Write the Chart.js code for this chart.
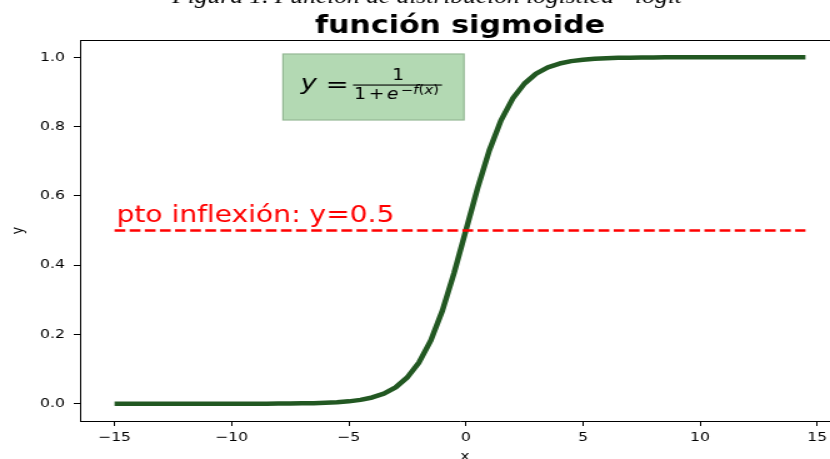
<!DOCTYPE html>
<html lang="es">
<head>
  <meta charset="UTF-8" />
  <title>función sigmoide</title>
  <script src="https://cdn.jsdelivr.net/npm/chart.js"></script>
  <style>
    html, body { margin: 0; padding: 0; background: #fff; overflow: hidden; }
    /* the reference picture is stretched sideways, so the whole chart is too */
    #wrap { width: 680px; height: 459px; transform: scale(1.25, 1); transform-origin: 0 0; }
  </style>
</head>
<body>
  <div id="wrap"><canvas id="sigmoidChart"></canvas></div>

  <script>
    const xVals = [-15, -14.5, -14, -13.5, -13, -12.5, -12, -11.5, -11, -10.5, -10, -9.5, -9, -8.5,
      -8, -7.5, -7, -6.5, -6, -5.5, -5, -4.5, -4, -3.5, -3, -2.5, -2, -1.5, -1, -0.5,
      0, 0.5, 1, 1.5, 2, 2.5, 3, 3.5, 4, 4.5, 5, 5.5, 6, 6.5, 7, 7.5, 8,
      8.5, 9, 9.5, 10, 10.5, 11, 11.5, 12, 12.5, 13, 13.5, 14, 14.5];
    const yVals = [0, 0, 0, 0, 0, 0, 0, 0, 0, 0, 0, 0, 0, 0,
      0.0003, 0.0006, 0.0009, 0.0015, 0.0025, 0.004, 0.0067, 0.011, 0.018, 0.029, 0.047, 0.076, 0.119, 0.182, 0.269, 0.378,
      0.5, 0.622, 0.731, 0.818, 0.881, 0.924, 0.953, 0.971, 0.982, 0.989, 0.993, 0.996, 0.9975, 0.9985, 0.9991, 0.9994, 0.9997,
      1, 1, 1, 1, 1, 1, 1, 1, 1, 1, 1, 1, 1];
    const inflX = [-15, 14.5];
    const inflY = [0.5, 0.5];
    const xTicks = [-15, -10, -5, 0, 5, 10, 15];
    const yTicks = [0, 0.2, 0.4, 0.6, 0.8, 1.0];

    Chart.defaults.font.family = "'DejaVu Sans', sans-serif";
    Chart.defaults.color = '#000';

    const tickFont = { size: 12.5 };

    const decorations = {
      id: 'decorations',
      afterDraw(chart) {
        const ctx = chart.ctx;
        const area = chart.chartArea;
        const xs = chart.scales.x, ys = chart.scales.y;
        ctx.save();

        // top spine
        ctx.strokeStyle = '#000';
        ctx.lineWidth = 1;
        ctx.beginPath();
        ctx.moveTo(area.left, area.top + 0.5);
        ctx.lineTo(area.right, area.top + 0.5);
        ctx.lineTo(area.right, area.bottom);
        ctx.stroke();

        // cut off caption above the title
        ctx.fillStyle = '#000';
        ctx.textAlign = 'center';
        ctx.textBaseline = 'alphabetic';
        const cap = 'Figura 1. Función de distribución logística - logit';
        ctx.font = "italic 19px 'Liberation Serif', serif";
        const capSize = 19 * 408 / ctx.measureText(cap).width;
        ctx.font = "italic " + capSize.toFixed(1) + "px 'Liberation Serif', serif";
        ctx.fillText(cap, 341.6, 3);

        // title
        ctx.font = "bold 24px 'DejaVu Sans'";
        ctx.fillText('función sigmoide', (area.left + area.right) / 2, 33);

        // axis labels
        ctx.font = "12.5px 'DejaVu Sans'";
        ctx.fillText('x', (area.left + area.right) / 2 + 4, 460);
        ctx.save();
        ctx.translate(14.4, (area.top + area.bottom) / 2);
        ctx.rotate(-Math.PI / 2);
        ctx.textBaseline = 'middle';
        ctx.fillText('y', 0, 0);
        ctx.restore();

        // inflection text
        ctx.fillStyle = 'red';
        ctx.textAlign = 'left';
        ctx.font = "22.5px 'DejaVu Sans'";
        ctx.fillText('pto inflexión: y=0.5', xs.getPixelForValue(-15) + 1.5, ys.getPixelForValue(0.525));

        // formula box
        ctx.fillStyle = '#b3d9b3';
        ctx.fillRect(226.4, 54, 144.8, 66);
        ctx.strokeStyle = '#94b894';
        ctx.lineWidth = 1.2;
        ctx.strokeRect(226.4, 54, 144.8, 66);

        ctx.fillStyle = '#000';
        ctx.textAlign = 'left';
        ctx.font = "italic 22px 'DejaVu Sans'";
        ctx.fillText('y', 240.5, 90);
        ctx.textAlign = 'center';
        ctx.font = "22px 'DejaVu Sans'";
        ctx.fillText('=', 269.6, 92);
        ctx.fillRect(282.4, 84.5, 71.2, 1.1);
        ctx.font = "15px 'DejaVu Sans'";
        ctx.fillText('1', 318.4, 80);
        ctx.fillText('1', 288, 99);
        ctx.fillText('+', 301.2, 99);
        ctx.font = "italic 15px 'DejaVu Sans'";
        ctx.fillText('e', 314, 99);
        ctx.textAlign = 'left';
        const sup = [['−', ''], ['f', 'italic '], ['(', ''], ['x', 'italic '], [')', '']];
        let sx = 320.5;
        sup.forEach(([t, st]) => {
          ctx.font = st + "12px 'DejaVu Sans'";
          ctx.fillText(t, sx, 94);
          sx += ctx.measureText(t).width;
        });

        ctx.restore();
      }
    };

    const ctx = document.getElementById('sigmoidChart').getContext('2d');
    new Chart(ctx, {
      type: 'line',
      data: {
        datasets: [{
          label: 'pto inflexión',
          data: inflX.map((x, i) => ({ x: x, y: inflY[i] })),
          borderColor: 'red',
          borderWidth: 2.5,
          borderDash: [8.6, 3.5],
          pointRadius: 0,
          order: 0
        }, {
          label: 'sigmoide',
          data: xVals.map((x, i) => ({ x: x, y: yVals[i] })),
          borderColor: '#225822',
          borderWidth: 4.5,
          borderJoinStyle: 'round',
          pointRadius: 0,
          tension: 0,
          order: 1
        }]
      },
      options: {
        responsive: true,
        maintainAspectRatio: false,
        animation: false,
        layout: { padding: { top: 40, right: 8, left: 0, bottom: 0 } },
        plugins: { legend: { display: false }, tooltip: { enabled: false } },
        scales: {
          x: {
            type: 'linear',
            min: -16.475,
            max: 15.975,
            afterBuildTicks: (s) => { s.ticks = xTicks.map(v => ({ value: v })); },
            afterFit: (s) => { s.height = 38; },
            ticks: {
              font: tickFont,
              padding: 4,
              maxRotation: 0,
              callback: (v) => String(v).replace('-', '−')
            },
            grid: { drawOnChartArea: false, tickLength: 5, color: '#000' },
            border: { display: true, color: '#000', width: 1 }
          },
          y: {
            min: -0.05,
            max: 1.05,
            afterBuildTicks: (s) => { s.ticks = yTicks.map(v => ({ value: v })); },
            afterFit: (s) => { s.width = 64; },
            ticks: {
              font: tickFont,
              padding: 7,
              callback: (v) => Number(v).toFixed(1)
            },
            grid: { drawOnChartArea: false, tickLength: 5, color: '#000' },
            border: { display: true, color: '#000', width: 1 }
          }
        }
      },
      plugins: [decorations]
    });
  </script>
</body>
</html>
